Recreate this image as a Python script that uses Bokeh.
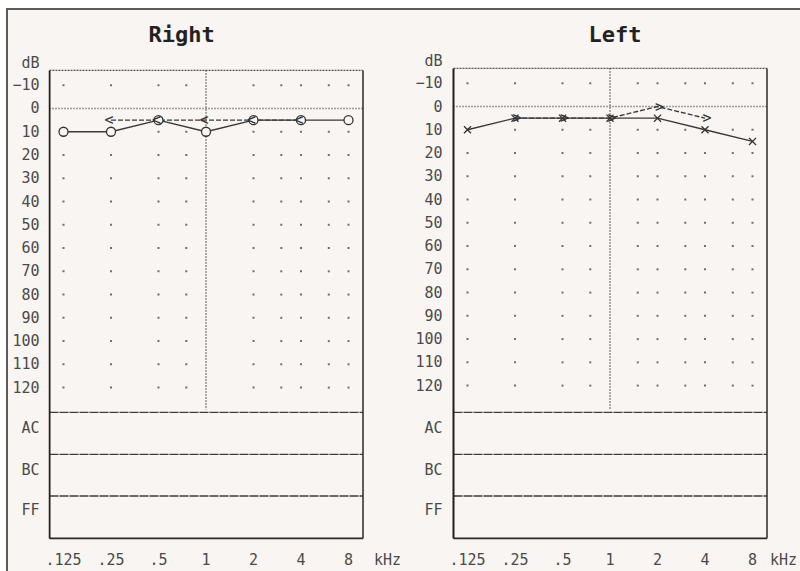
from bokeh.plotting import figure
from bokeh.layouts import row
from bokeh.models import Range1d, FixedTicker
from bokeh.core.properties import value
from bokeh.embed import file_html
from bokeh.resources import INLINE

# ---------------- data ----------------
freqs = [0.125, 0.25, 0.5, 1, 2, 4, 8]
freq_labels = [".125", ".25", ".5", "1", "2", "4", "8"]
khz_label = "kHz"

right_ac = [10, 10, 5, 10, 5, 5, 5]          # air conduction, circles
right_bc_freqs = [0.25, 0.5, 1, 2, 4]
right_bc = [5, 5, 5, 5, 5]                    # bone conduction, "<"

left_ac = [10, 5, 5, 5, 5, 10, 15]           # air conduction, crosses
left_bc_freqs = [0.25, 0.5, 1, 2, 4]
left_bc = [5, 5, 5, 0, 5]                     # bone conduction, ">"

db_ticks = [-10, 0, 10, 20, 30, 40, 50, 60, 70, 80, 90, 100, 110, 120]
dot_rows = [-10, 10, 20, 30, 40, 50, 60, 70, 80, 90, 100, 110, 120]
right_dot_cols = [0.125, 0.25, 0.5, 0.75, 2, 3, 4, 6, 8]
left_dot_cols = [0.125, 0.25, 0.5, 0.75, 1.5, 2, 3, 4, 6, 8]
band_labels = ["AC", "BC", "FF"]
unit_label = "dB"

# ---------------- layout constants (pixels) ----------------
BG = "#f9f5f2"
FONT = "DejaVu Sans Mono"
OCT = 47.5          # px per octave
PXDB = 2.35         # px per dB
TOP_OFF = 10        # canvas top in page px
H = 561
FRAME_TOP = 60
FRAME_BOTTOM = 544
EDGE = "2px solid #5b5b5b"


def make_panel(title, ac, bc_f, bc, ac_marker, bc_sym, dot_cols,
               width, page_left, frame_left, x125, zero, title_offset,
               khz_px, box_top_px):
    def fpx(px):
        return 0.125 * 2 ** ((px - x125) / OCT)

    def dbpx(px):
        return (px - zero) / PXDB

    p = figure(width=width, height=H, x_axis_type="log",
               x_range=Range1d(fpx(frame_left), fpx(page_left + width)),
               y_range=Range1d(dbpx(FRAME_BOTTOM), dbpx(FRAME_TOP)),
               output_backend="svg", toolbar_location=None,
               min_border_left=frame_left - page_left, min_border_right=0,
               min_border_top=FRAME_TOP - TOP_OFF,
               min_border_bottom=TOP_OFF + H - FRAME_BOTTOM,
               background_fill_color=BG, border_fill_color=BG,
               outline_line_color=None)
    p.grid.visible = False

    # title
    p.title.text = title
    p.title.text_font = FONT
    p.title.text_font_style = "bold"
    p.title.text_font_size = "22px"
    p.title.text_color = "#222222"
    p.title.align = "left"
    p.title.vertical_align = "top"
    p.title.offset = title_offset
    p.title.standoff = 23

    # x axis
    khz_val = round(fpx(khz_px), 3)
    xt = list(freqs) + [khz_val]
    p.xaxis.ticker = FixedTicker(ticks=xt, minor_ticks=[])
    ov = {f: lab for f, lab in zip(freqs, freq_labels)}
    ov[khz_val] = khz_label
    p.xaxis.major_label_overrides = ov
    # y axis
    db_val = round(dbpx(box_top_px - 7), 2)
    band_px = [431, 474, 514]
    band_vals = [round(dbpx(b), 2) for b in band_px]
    yt = [db_val] + list(db_ticks) + band_vals
    p.yaxis.ticker = FixedTicker(ticks=yt, minor_ticks=[])
    yov = {db_val: unit_label}
    for v, lab in zip(band_vals, band_labels):
        yov[v] = lab
    p.yaxis.major_label_overrides = yov
    for ax in (p.xaxis, p.yaxis):
        ax.axis_line_color = None
        ax.major_tick_line_color = None
        ax.minor_tick_line_color = None
        ax.major_label_text_font = FONT
        ax.major_label_text_font_size = "15px"
        ax.major_label_text_color = "#4a4a4a"
    p.xaxis.major_label_standoff = 5
    p.yaxis.major_label_standoff = 3

    # box geometry
    xl = fpx(x125 - 14)
    xr = fpx(x125 + 299.5)
    yt_box = dbpx(box_top_px)
    y_vend = dbpx(413)
    lines_y = [dbpx(415.5), dbpx(458), dbpx(500)]
    y_bot = dbpx(543)

    # grid dots
    dx = [c for r in dot_rows for c in dot_cols]
    dy = [r for r in dot_rows for c in dot_cols]
    p.scatter(dx, dy, marker="square", size=2, color="#6f6f6f", line_color=None)

    # box edges
    p.segment(x0=[xl], y0=[yt_box], x1=[xr], y1=[yt_box],
              line_color="#555555", line_width=1.2, line_dash="2 1")
    p.segment(x0=[xl], y0=[0], x1=[xr], y1=[0],
              line_color="#444444", line_width=1.5, line_dash="1 2")
    p.segment(x0=[1], y0=[yt_box], x1=[1], y1=[y_vend],
              line_color="#333333", line_width=1.5, line_dash="1 2")
    p.segment(x0=[xl] * 3, y0=lines_y, x1=[xr] * 3, y1=lines_y,
              line_color="#3d3d3d", line_width=1.4, line_dash="9 1")
    p.segment(x0=[xl], y0=[y_bot], x1=[xr], y1=[y_bot],
              line_color="#2a2a2a", line_width=1.8)
    p.segment(x0=[xl], y0=[yt_box], x1=[xl], y1=[y_bot],
              line_color="#1f1f1f", line_width=2)
    p.segment(x0=[xr], y0=[yt_box], x1=[xr], y1=[y_bot],
              line_color="#2a2a2a", line_width=1.5)

    # data
    p.line(bc_f, bc, line_color="#3a3a3a", line_width=1.4, line_dash="5 2")
    p.line(freqs, ac, line_color="#3a3a3a", line_width=1.4)
    if ac_marker == "circle":
        p.scatter(freqs, ac, marker="circle", size=9, fill_color=BG,
                  line_color="#333333", line_width=1.3)
    else:
        p.scatter(freqs, ac, marker="x", size=10,
                  line_color="#333333", line_width=1.3)
    p.text(bc_f, bc, text=[bc_sym] * len(bc_f), text_align="center",
           text_baseline="middle", text_font=value(FONT),
           text_font_size="15px", text_color="#333333",
           x_offset=-2 if bc_sym == "<" else 2)
    return p


p1 = make_panel("Right", right_ac, right_bc_freqs, right_bc, "circle", "<",
                right_dot_cols, width=400, page_left=8, frame_left=48,
                x125=63, zero=108.5, title_offset=100, khz_px=387,
                box_top_px=70)
p2 = make_panel("Left", left_ac, left_bc_freqs, left_bc, "x", ">",
                left_dot_cols, width=392, page_left=408, frame_left=451,
                x125=467, zero=106.5, title_offset=137, khz_px=783,
                box_top_px=68)

layout = row(p1, p2, margin=(8, 0, 0, 6),
             styles={"border-top": EDGE, "border-left": EDGE,
                     "background-color": BG})

with open("out.html", "w") as f:
    f.write(file_html(layout, INLINE))
